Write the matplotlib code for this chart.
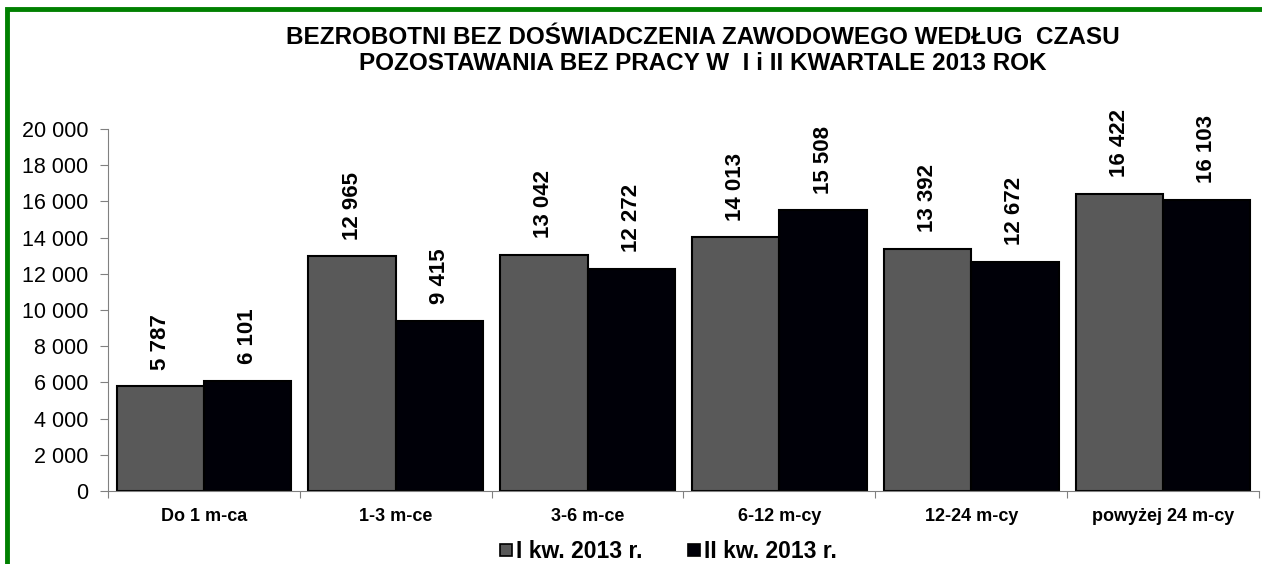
import numpy as np
import matplotlib.pyplot as plt
from matplotlib.patches import Rectangle
from matplotlib.lines import Line2D

plt.rcParams['font.family'] = ['Liberation Sans', 'DejaVu Sans']

categories = ['Do 1 m-ca', '1-3 m-ce', '3-6 m-ce', '6-12 m-cy', '12-24 m-cy', 'powyżej 24 m-cy']
q1_2013 = [5787, 12965, 13042, 14013, 13392, 16422]
q2_2013 = [6101, 9415, 12272, 15508, 12672, 16103]
series_names = ['I kw. 2013 r.', 'II kw. 2013 r.']
y_ticks = list(range(0, 20001, 2000))


def fmt(v):
    return f"{v:,}".replace(',', ' ')


fig = plt.figure(figsize=(12.62, 5.64), dpi=100)
ax = fig.add_axes([0.0856, 0.1294, 0.9120, 0.6419])

x = np.arange(len(categories))
w = 0.455
b1 = ax.bar(x - w / 2, q1_2013, w, color='#595959', edgecolor='black', linewidth=1.5)
b2 = ax.bar(x + w / 2, q2_2013, w, color='#000008', edgecolor='black', linewidth=1.5)

# etykiety nad słupkami (pionowo)
for bars, vals in ((b1, q1_2013), (b2, q2_2013)):
    for r, v in zip(bars, vals):
        ax.annotate(fmt(v), (r.get_x() + r.get_width() / 2, v), xytext=(0, 12),
                    textcoords='offset points', rotation=90, ha='center', va='bottom',
                    fontsize=16, fontweight='bold')

ax.set_xlim(-0.5, len(categories) - 0.5)
ax.set_ylim(0, 20000)
ax.set_yticks(y_ticks)
ax.set_yticklabels([fmt(v) for v in y_ticks], fontsize=15.5)

# kreski na granicach kategorii, etykiety w środku
ax.set_xticks(np.arange(len(categories) + 1) - 0.5)
ax.set_xticklabels([])
ax.set_xticks(x, minor=True)
ax.set_xticklabels(categories, minor=True, fontsize=13, fontweight='bold')
ax.tick_params(axis='x', which='minor', length=0, pad=12)
ax.tick_params(axis='x', which='major', length=5, direction='out', color='#808080')
ax.tick_params(axis='y', length=6, pad=8, color='#808080')

for s in ('top', 'right'):
    ax.spines[s].set_visible(False)
for s in ('left', 'bottom'):
    ax.spines[s].set_color('#808080')

fig.text(0.557, 0.9105, 'BEZROBOTNI BEZ DOŚWIADCZENIA ZAWODOWEGO WEDŁUG  CZASU\n'
         'POZOSTAWANIA BEZ PRACY W  I i II KWARTALE 2013 ROK',
         ha='center', va='center', fontsize=17.5, fontweight='bold', linespacing=1.13)

handles = [Line2D([], [], marker='s', ls='', markersize=9, markerfacecolor=c,
                  markeredgecolor='black', markeredgewidth=1.2) for c in ('#595959', '#000008')]
fig.legend(handles, series_names, loc='center', bbox_to_anchor=(0.528, 0.022), ncol=2,
           frameon=False, prop={'weight': 'bold', 'size': 16.5},
           handletextpad=0.0, columnspacing=1.8, handlelength=0.9, borderpad=0)

# zielona ramka (lewa i górna krawędź widoczne)
fig.patches.append(Rectangle((0.0059, -0.05), 1.05, 1.034, transform=fig.transFigure,
                             fill=False, edgecolor='#008000', linewidth=3.5))

fig.savefig('out.png', dpi=100)
